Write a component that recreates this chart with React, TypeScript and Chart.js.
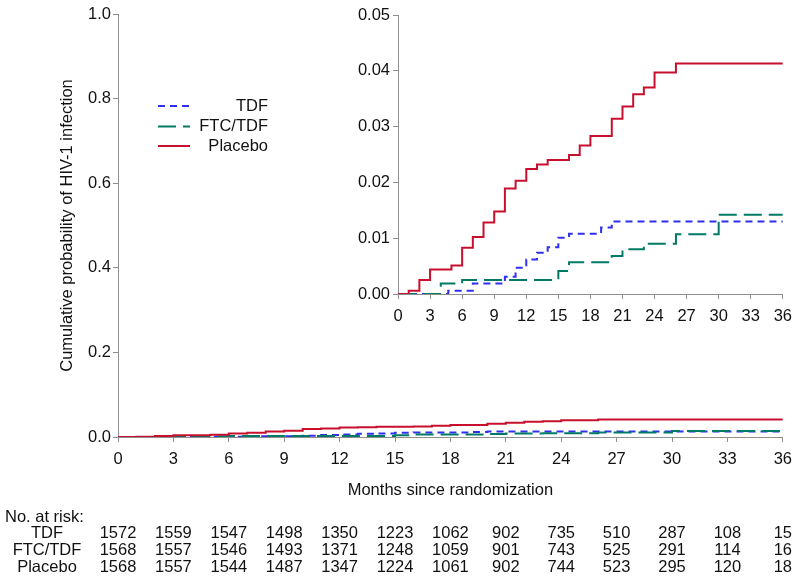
import React, { useEffect, useRef } from "react";
import { Chart, registerables } from "chart.js";

Chart.register(...registerables);

// ---------- data ----------
const monthTicks = [0, 3, 6, 9, 12, 15, 18, 21, 24, 27, 30, 33, 36];

const tdfMonths = [0, 4.7, 7, 10, 11, 12, 13, 14, 15, 16, 19, 20, 36];
const tdfProb = [0, 0.0006, 0.0019, 0.0031, 0.0047, 0.0062, 0.0074, 0.0084, 0.0101, 0.0108, 0.0119, 0.013, 0.013];

const ftcMonths = [0, 4, 6, 15, 16, 20, 21, 23, 26, 30, 36];
const ftcProb = [0, 0.0019, 0.0025, 0.0041, 0.0057, 0.0068, 0.008, 0.009, 0.0107, 0.0142, 0.0142];

const placeboMonths = [0, 1, 2, 3, 5, 6, 7, 8, 9, 10, 11, 12, 13, 14, 16, 17, 18, 20, 21, 22, 23, 24, 26, 36];
const placeboProb = [0, 0.0006, 0.0025, 0.0044, 0.0051, 0.0083, 0.0102, 0.0128, 0.0148, 0.0189, 0.0203, 0.0224, 0.0232, 0.024, 0.0249, 0.0266, 0.0283, 0.0314, 0.0336, 0.0358, 0.037, 0.0397, 0.0413, 0.0413];

const groupLabels = ["TDF", "FTC/TDF", "Placebo"];
const riskTDF = [1572, 1559, 1547, 1498, 1350, 1223, 1062, 902, 735, 510, 287, 108, 15];
const riskFTC = [1568, 1557, 1546, 1493, 1371, 1248, 1059, 901, 743, 525, 291, 114, 16];
const riskPlacebo = [1568, 1557, 1544, 1487, 1347, 1224, 1061, 902, 744, 523, 295, 120, 18];

const yTitle = "Cumulative probability of HIV-1 infection";
const xTitle = "Months since randomization";
const riskTitle = "No. at risk:";

// ---------- styles ----------
const FONT_FAMILY = "Arial, 'Liberation Sans', sans-serif";
const FONT_SIZE = 16.5;
const TEXT = "#111111";
const AXIS = "#8f8f8f";
const BLUE = "#2f2ff0";
const GREEN = "#007a66";
const RED = "#c8102e";

const series = [
  { label: groupLabels[0], months: tdfMonths, prob: tdfProb, color: BLUE, dash: [7, 5] },
  { label: groupLabels[1], months: ftcMonths, prob: ftcProb, color: GREEN, dash: [18, 7] },
  { label: groupLabels[2], months: placeboMonths, prob: placeboProb, color: RED, dash: [] as number[] },
];
const riskRows = [riskTDF, riskFTC, riskPlacebo];

function buildDatasets() {
  return series.map((s, i) => ({
    label: s.label,
    data: s.months.map((m, k) => ({ x: m, y: s.prob[k] })),
    borderColor: s.color,
    borderWidth: 2,
    borderDash: s.dash,
    stepped: "before" as const,
    pointRadius: 0,
    fill: false,
    tension: 0,
    order: 3 - i,
  }));
}

const font = { family: FONT_FAMILY, size: FONT_SIZE };

function axisCommon() {
  return {
    grid: { drawOnChartArea: false, drawTicks: true, tickLength: 5, color: AXIS, lineWidth: 1 },
    border: { display: true, color: AXIS, width: 1 },
  };
}

const textPlugin = {
  id: "kmText",
  afterDraw(chart: any) {
    const ctx = chart.ctx as CanvasRenderingContext2D;
    const area = chart.chartArea;
    const xs = chart.scales.x;
    ctx.save();
    ctx.fillStyle = TEXT;
    ctx.font = `${FONT_SIZE}px ${FONT_FAMILY}`;
    ctx.textBaseline = "middle";

    // y title
    ctx.save();
    ctx.translate(67, (area.top + area.bottom) / 2);
    ctx.rotate(-Math.PI / 2);
    ctx.textAlign = "center";
    ctx.fillText(yTitle, 0, 0);
    ctx.restore();

    // x title
    ctx.textAlign = "center";
    ctx.fillText(xTitle, (area.left + area.right) / 2, 490);

    // legend
    const legendY = [106, 126.5, 146];
    series.forEach((s, i) => {
      ctx.save();
      ctx.strokeStyle = s.color;
      ctx.lineWidth = 2;
      ctx.setLineDash(s.dash);
      ctx.beginPath();
      ctx.moveTo(158, legendY[i]);
      ctx.lineTo(190, legendY[i]);
      ctx.stroke();
      ctx.restore();
      ctx.textAlign = "right";
      ctx.fillText(s.label, 268, legendY[i]);
    });

    // risk table
    ctx.textAlign = "left";
    ctx.fillText(riskTitle, 5, 517);
    const rowY = [533.5, 550.5, 567.5];
    riskRows.forEach((row, r) => {
      ctx.textAlign = "center";
      ctx.fillText(groupLabels[r], 47, rowY[r]);
      row.forEach((n, c) => {
        ctx.fillText(String(n), xs.getPixelForValue(monthTicks[c]), rowY[r]);
      });
    });
    ctx.restore();
  },
};

export default function App() {
  const mainRef = useRef<HTMLCanvasElement>(null);
  const insetRef = useRef<HTMLCanvasElement>(null);

  useEffect(() => {
    Chart.defaults.font.family = FONT_FAMILY;
    Chart.defaults.font.size = FONT_SIZE;
    Chart.defaults.color = TEXT;

    const main = new Chart(mainRef.current as HTMLCanvasElement, {
      type: "line",
      data: { datasets: buildDatasets() as any },
      options: {
        responsive: false,
        animation: false,
        events: [],
        layout: { padding: { left: 0, top: 14, right: 16, bottom: 0 } },
        plugins: { legend: { display: false }, tooltip: { enabled: false } },
        scales: {
          x: {
            type: "linear",
            min: 0,
            max: 36,
            ...axisCommon(),
            ticks: { stepSize: 3, padding: 8, color: TEXT, font, maxRotation: 0, autoSkip: false },
            afterFit: (s: any) => {
              s.height = 144;
            },
          },
          y: {
            type: "linear",
            min: 0,
            max: 1,
            ...axisCommon(),
            ticks: {
              stepSize: 0.2,
              padding: 2,
              color: TEXT,
              font,
              callback: (v: any) => Number(v).toFixed(1),
            },
            afterFit: (s: any) => {
              s.width = 118;
            },
          },
        },
      } as any,
      plugins: [textPlugin],
    });

    const inset = new Chart(insetRef.current as HTMLCanvasElement, {
      type: "line",
      data: { datasets: buildDatasets() as any },
      options: {
        responsive: false,
        animation: false,
        events: [],
        layout: { padding: { left: 0, top: 15, right: 16, bottom: 0 } },
        plugins: { legend: { display: false }, tooltip: { enabled: false } },
        scales: {
          x: {
            type: "linear",
            min: 0,
            max: 36,
            ...axisCommon(),
            ticks: { stepSize: 3, padding: 8, color: TEXT, font, maxRotation: 0, autoSkip: false },
            afterFit: (s: any) => {
              s.height = 46;
            },
          },
          y: {
            type: "linear",
            min: 0,
            max: 0.05,
            ...axisCommon(),
            ticks: {
              stepSize: 0.01,
              padding: 3,
              color: TEXT,
              font,
              callback: (v: any) => Number(v).toFixed(2),
            },
            afterFit: (s: any) => {
              s.width = 58;
            },
          },
        },
      } as any,
    });

    return () => {
      main.destroy();
      inset.destroy();
    };
  }, []);

  return (
    <div style={{ position: "absolute", left: 0, top: 0, width: 800, height: 581, background: "#fff" }}>
      <canvas
        ref={mainRef}
        width={800}
        height={581}
        style={{ position: "absolute", left: 0, top: 0, width: 800, height: 581 }}
      />
      <canvas
        ref={insetRef}
        width={460}
        height={340}
        style={{ position: "absolute", left: 340, top: 0, width: 460, height: 340 }}
      />
    </div>
  );
}
